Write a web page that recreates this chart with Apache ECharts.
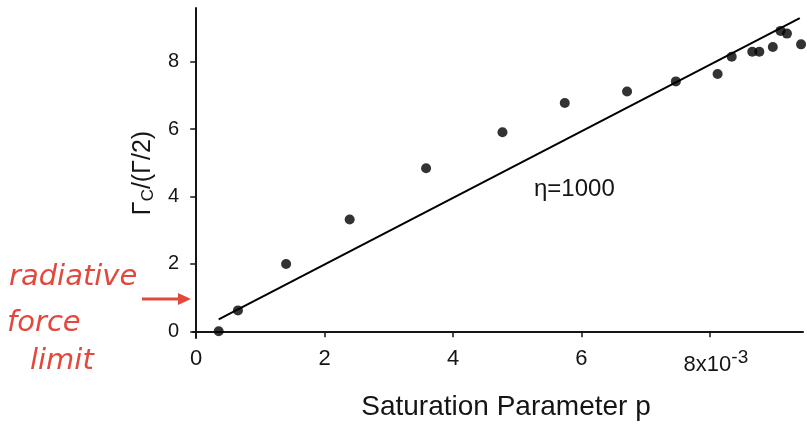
<!DOCTYPE html>
<html>
<head>
<meta charset="utf-8">
<script src="https://cdn.jsdelivr.net/npm/echarts@6/dist/echarts.min.js"></script>
<style>html,body{margin:0;padding:0;background:#fff;}#c{width:807px;height:428px;}</style>
</head>
<body>
<div id="c"></div>
<script>
// Data
const pValues = [0.35, 0.65, 1.40, 2.39, 3.58, 4.77, 5.74, 6.71, 7.47, 8.12, 8.34, 8.66, 8.77, 8.98, 9.10, 9.20, 9.42];
const gammaValues = [0.0, 0.62, 2.0, 3.32, 4.84, 5.91, 6.78, 7.12, 7.42, 7.64, 8.15, 8.30, 8.30, 8.44, 8.92, 8.84, 8.52];
const fitP = [0.35, 9.40];
const fitGamma = [0.35, 9.30];
const xTicks = [0, 2, 4, 6, 8];
const yTicks = [0, 2, 4, 6, 8];
const xTickLabels = ['0', '2', '4', '6', '{b|8x10}{sup|-3}'];

const points = pValues.map((p, i) => [p, gammaValues[i]]);
const fitLine = fitP.map((p, i) => [p, fitGamma[i]]);

const chart = echarts.init(document.getElementById('c'));
const font = 'Liberation Sans, Arial, sans-serif';
const ink = '#151515';
const red = '#e2483b';

chart.setOption({
  animation: false,
  backgroundColor: '#fff',
  grid: { left: 193, right: 4, top: 8, bottom: 90 },
  xAxis: {
    type: 'value',
    min: -0.05, max: 9.45,
    name: 'Saturation Parameter p',
    nameLocation: 'middle',
    nameGap: 55,
    nameTextStyle: { fontFamily: font, fontSize: 28, color: ink, padding: [0, 0, 0, 16] },
    axisLine: { show: true, lineStyle: { color: ink, width: 2 } },
    axisTick: { show: true, length: 6, customValues: xTicks, lineStyle: { color: ink, width: 1.5 } },
    splitLine: { show: false },
    axisLabel: {
      customValues: xTicks,
      margin: 10,
      fontFamily: font, fontSize: 22, color: ink,
      formatter: function (v) { return xTickLabels[xTicks.indexOf(v)]; },
      rich: {
        b: { fontFamily: font, fontSize: 22, color: ink, padding: [0, 0, 0, 12] },
        sup: { fontFamily: font, fontSize: 19, color: ink, padding: [0, 0, 14, 0] }
      }
    }
  },
  yAxis: {
    type: 'value',
    min: -0.2, max: 9.6,
    name: '{g|Γ}{s|C}{g|/(Γ/2)}',
    nameLocation: 'middle',
    nameGap: 36,
    nameTextStyle: {
      fontFamily: font, fontSize: 25, color: ink,
      rich: {
        g: { fontFamily: font, fontSize: 25, color: ink },
        s: { fontFamily: font, fontSize: 17, color: ink, padding: [10, 0, 0, 0] }
      }
    },
    axisLine: { show: true, lineStyle: { color: ink, width: 2 } },
    axisTick: { show: true, length: 6, customValues: yTicks, lineStyle: { color: ink, width: 1.5 } },
    splitLine: { show: false },
    axisLabel: { customValues: yTicks, margin: 14, fontFamily: font, fontSize: 20, color: ink }
  },
  series: [
    {
      type: 'line',
      data: fitLine,
      showSymbol: false,
      symbol: 'none',
      lineStyle: { color: '#000', width: 2 },
      z: 2
    },
    {
      type: 'scatter',
      data: points,
      symbol: 'circle',
      symbolSize: 10,
      clip: false,
      itemStyle: { color: '#000' },
      z: 3
    }
  ],
  graphic: [
    { type: 'text', left: 534, top: 177, style: { text: 'η=1000', font: '24px ' + font, fill: ink } },
    { type: 'text', left: 9, top: 263, style: { text: 'radiative', font: 'italic 29px "DejaVu Sans"', fill: red } },
    { type: 'text', left: 7, top: 309, style: { text: 'force', font: 'italic 29px "DejaVu Sans"', fill: red } },
    { type: 'text', left: 30, top: 347, style: { text: 'limit', font: 'italic 29px "DejaVu Sans"', fill: red } },
    { type: 'line', shape: { x1: 142, y1: 299, x2: 180, y2: 299 }, style: { stroke: red, lineWidth: 3 } },
    { type: 'polygon', shape: { points: [[178, 293], [191, 299], [178, 305]] }, style: { fill: red } }
  ]
});
</script>
</body>
</html>
